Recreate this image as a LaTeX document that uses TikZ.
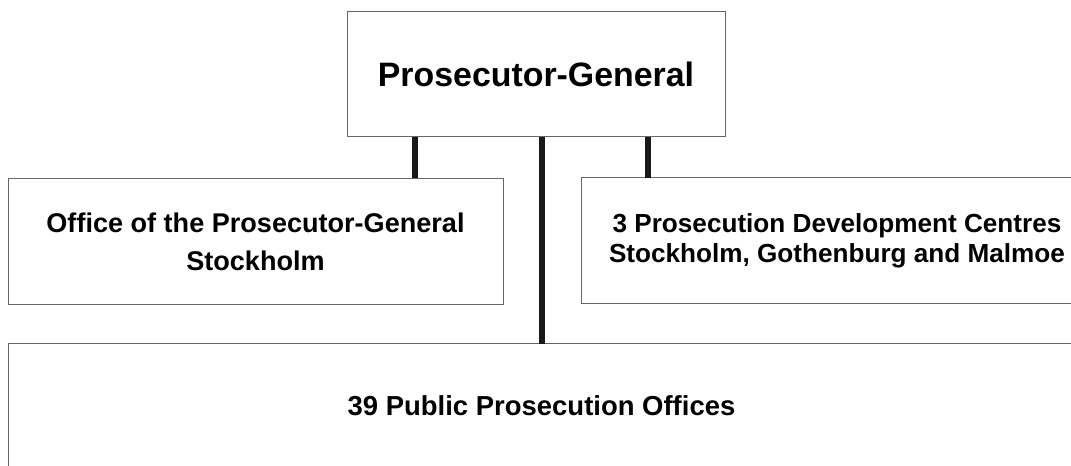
\documentclass[tikz,border=0pt]{standalone}
\usepackage{fontspec}
\setmainfont{Liberation Sans}
\begin{document}
\begin{tikzpicture}[x=0.75pt,y=-0.75pt,
  box/.style={draw=black!60, line width=0.75pt, inner sep=0pt, outer sep=0pt,
    align=center, font=\bfseries},
  link/.style={draw=black!90, line width=4pt}]
\useasboundingbox (0,0) rectangle (1071,466);
\fill[white] (0,0) rectangle (1071,466);

% head of the organisation
\node[box, minimum width=378*0.75pt, minimum height=125*0.75pt,
  font=\bfseries\fontsize{25.4}{30}\selectfont] (pg) at (536,74.5) {Prosecutor-General};

% second level
\node[box, minimum width=495*0.75pt, minimum height=126*0.75pt,
  font=\bfseries\fontsize{20.3}{28.5}\selectfont] (office) at (255.5,241.5)
  {Office of the Prosecutor-General\\Stockholm};
\node[box, minimum width=512*0.75pt, minimum height=126*0.75pt,
  font=\bfseries\fontsize{19.6}{22.2}\selectfont] (centres) at (837,241)
  {3 Prosecution Development Centres\\Stockholm, Gothenburg and Malmoe};

% local offices
\node[box, minimum width=1067*0.75pt, minimum height=123*0.75pt,
  font=\bfseries\fontsize{20.6}{24}\selectfont] (local) at (541.5,405.5)
  {39 Public Prosecution Offices};

% connector positions
\coordinate (xa) at (415,0);
\coordinate (xb) at (542,0);
\coordinate (xc) at (648,0);

\draw[link] (pg.south -| xa) -- (office.north -| xa);
\draw[link] (pg.south -| xb) -- (local.north -| xb);
\draw[link] (pg.south -| xc) -- (centres.north -| xc);
\end{tikzpicture}
\end{document}
